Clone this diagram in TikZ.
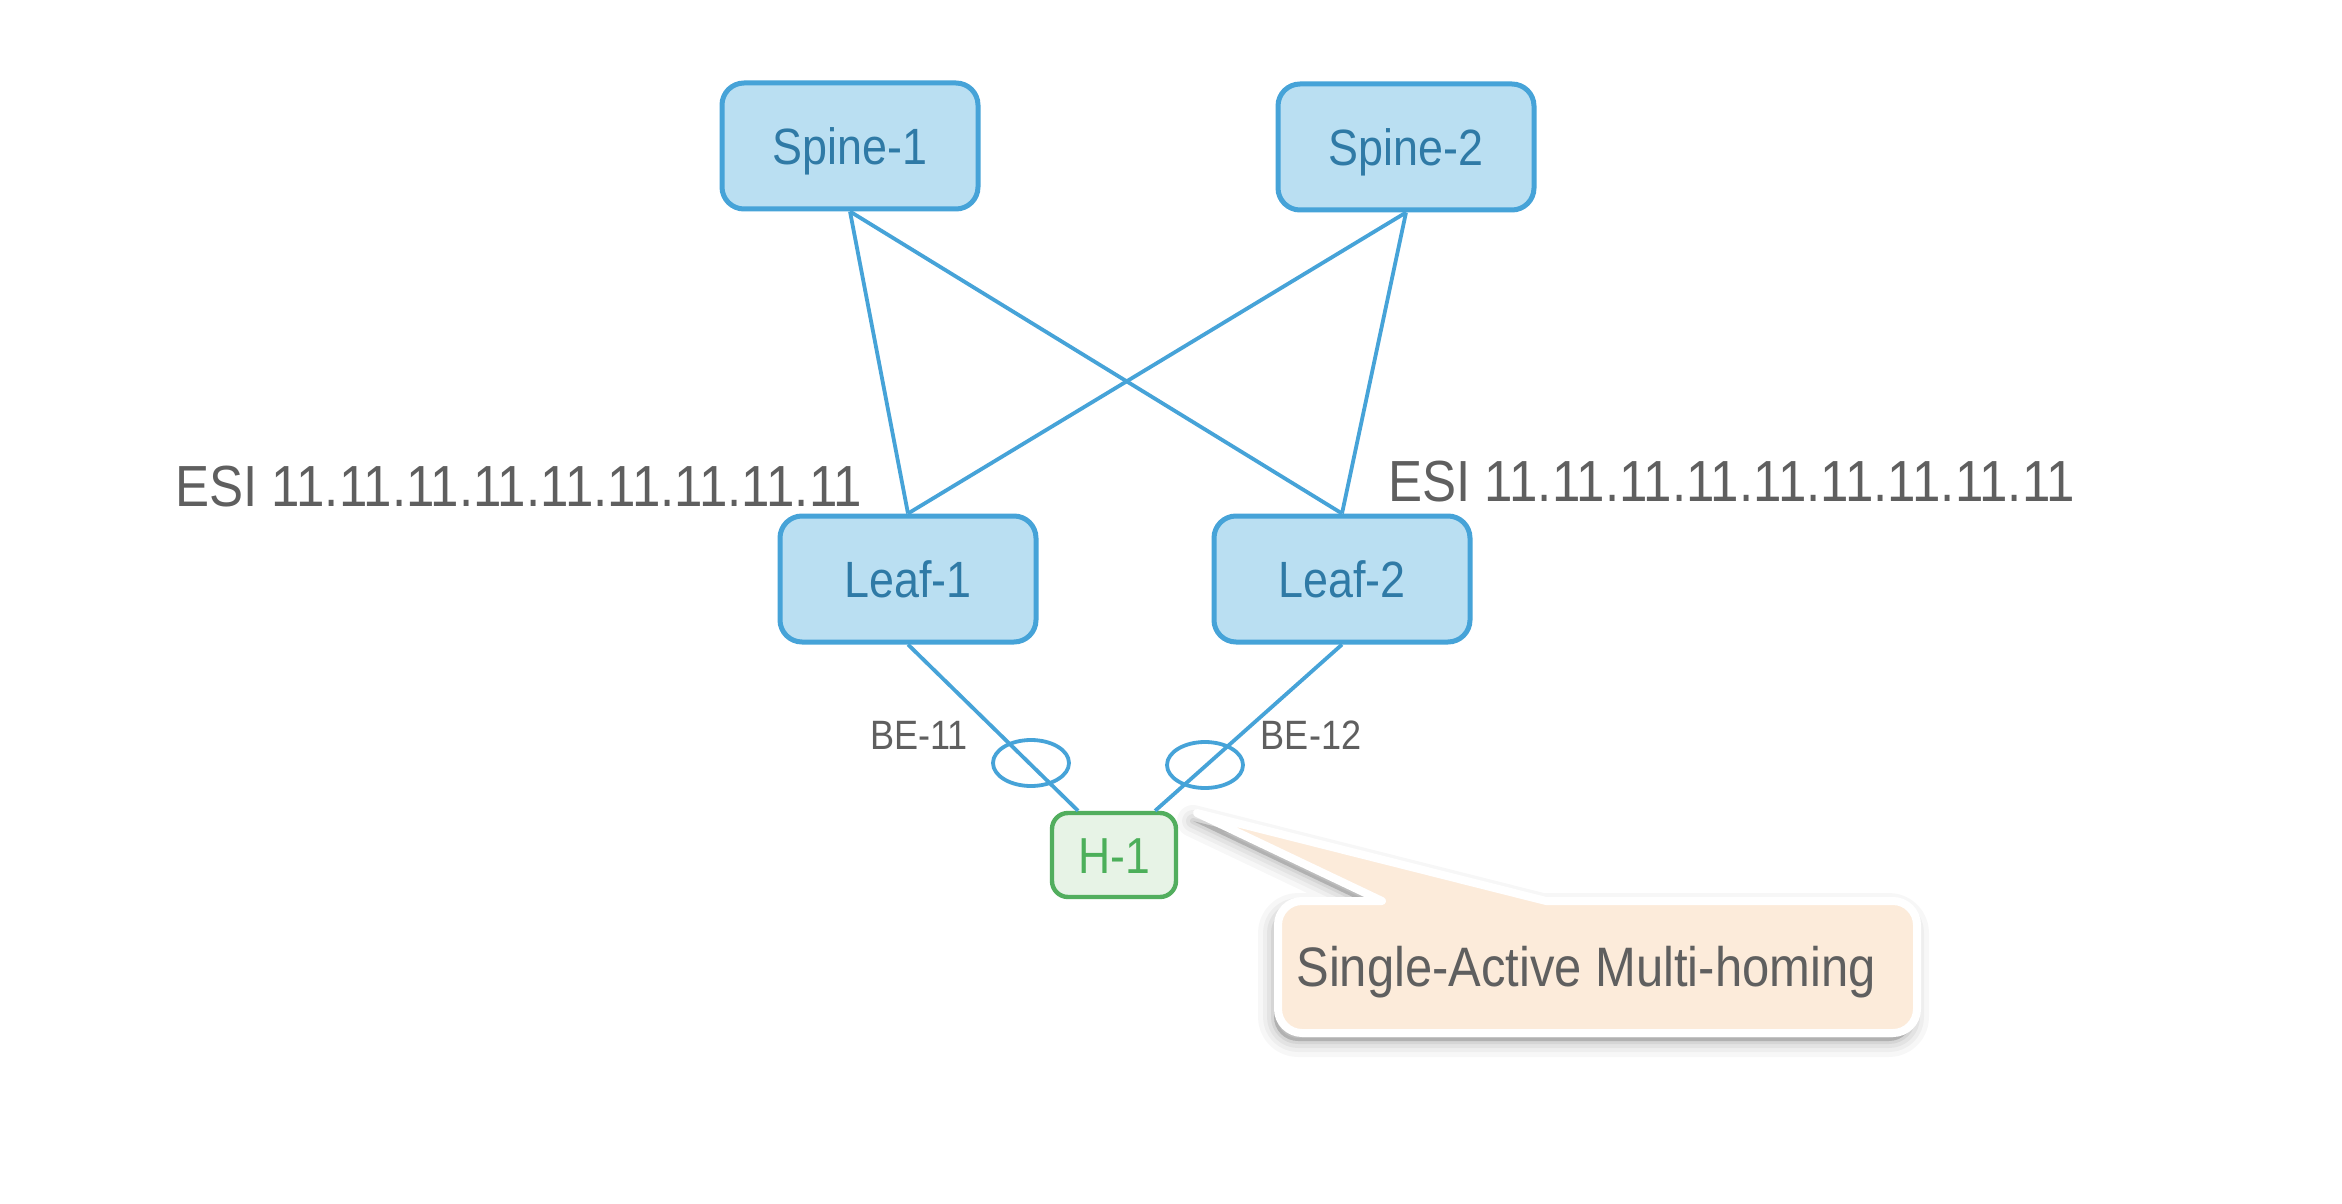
\documentclass[tikz,border=0pt]{standalone}
\usepackage{fontspec}
\setmainfont[FakeStretch=0.88]{Liberation Sans}
\usetikzlibrary{shapes.geometric,calc}
\definecolor{lineblue}{RGB}{70,163,216}
\definecolor{boxfill}{RGB}{186,223,242}
\definecolor{boxtext}{RGB}{47,122,166}
\definecolor{hostline}{RGB}{82,174,94}
\definecolor{hostfill}{RGB}{231,243,230}
\definecolor{hosttext}{RGB}{76,175,90}
\definecolor{graytext}{RGB}{95,95,95}
\definecolor{peach}{RGB}{252,235,218}
\tikzset{
  netbox/.style={draw=lineblue, fill=boxfill, line width=2.5pt, rounded corners=11pt,
    minimum width=128pt, minimum height=63pt, inner sep=0pt, text=boxtext,
    text height=18.3pt, text depth=0pt,
    font=\fontsize{25.5}{30}\selectfont},
  hostbox/.style={draw=hostline, fill=hostfill, line width=2.2pt, rounded corners=8pt,
    minimum width=62pt, minimum height=42pt, inner sep=0pt, text=hosttext,
    text height=18.1pt, text depth=0pt,
    font=\fontsize{25.3}{30}\selectfont},
  link/.style={draw=lineblue, line width=1.9pt},
  ring/.style={ellipse, draw=lineblue, line width=1.9pt, minimum width=38pt,
    minimum height=23pt, inner sep=0pt},
  esilabel/.style={text=graytext, inner sep=0pt, font=\fontsize{29}{34}\selectfont},
  belabel/.style={text=graytext, inner sep=0pt, font=\fontsize{20.5}{24}\selectfont},
  callout/.style={fill=peach, draw=white, line width=4pt, line join=round},
  calloutshadow/.style={fill=black, draw=black, line join=round},
}
\newcommand\calloutshape{(1197,813) -- (1546,901) [rounded corners=12pt] -- (1917,901) -- (1917,1033)
  -- (1278,1033) -- (1278,901) [sharp corners] -- (1382,901) -- cycle}
\begin{document}
\begin{tikzpicture}[x=0.5pt,y=-0.5pt]
\useasboundingbox (0,0) rectangle (2342,1204);
\fill[white] (0,0) rectangle (2342,1204);

% nodes
\node[netbox] (s1) at (850,146) {Spine-1};
\node[netbox] (s2) at (1406,147) {Spine-2};
\node[netbox] (l1) at (908,579) {Leaf-1};
\node[netbox] (l2) at (1342,579) {Leaf-2};
\node[hostbox] (h1) at (1114,855) {H-1};

% links
\draw[link] (s1.south) -- (l1.north);
\draw[link] (s1.south) -- (l2.north);
\draw[link] (s2.south) -- (l1.north);
\draw[link] (s2.south) -- (l2.north);
\draw[link] (l1.south) -- ($(h1.north west)!0.22!(h1.north east)$);
\draw[link] (l2.south) -- ($(h1.north west)!0.82!(h1.north east)$);

% bundle rings
\node[ring] (r1) at (1031,763) {};
\node[ring] (r2) at (1205,765) {};

% labels
\node[esilabel, anchor=west] (esi1) at (175,487) {ESI 11.11.11.11.11.11.11.11.11};
\node[esilabel, anchor=west] (esi2) at (1388,482) {ESI 11.11.11.11.11.11.11.11.11};
\node[belabel] (be11) at (919,735) {BE-11};
\node[belabel] (be12) at (1311,735) {BE-12};

% callout shadow (soft)
\begin{scope}[shift={(-4,8)}]
\foreach \w/\o in {16/0.03, 11/0.035, 7/0.045, 3/0.06}{
  \path[calloutshadow, opacity=\o, line width=\w pt] \calloutshape;
}
\end{scope}
% callout
\path[callout] \calloutshape;
\node[text=graytext, inner sep=0pt, anchor=west, font=\fontsize{27.8}{33}\selectfont]
  (ct) at (1296,972) {Single-Active Multi-homing};
\end{tikzpicture}
\end{document}
